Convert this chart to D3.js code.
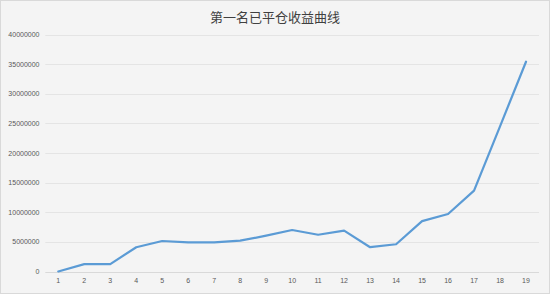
<!DOCTYPE html>
<html>
<head>
<meta charset="utf-8">
<script src="https://cdn.jsdelivr.net/npm/d3@7"></script>
<style>
  html, body { margin: 0; padding: 0; background: #fff; }
  svg { display: block; }
</style>
</head>
<body>
<svg id="chart" width="550" height="294"></svg>
<script>
const title = "第一名已平仓收益曲线";
const categories = ["1","2","3","4","5","6","7","8","9","10","11","12","13","14","15","16","17","18","19"];
const profit = [0, 1250000, 1250000, 4100000, 5150000, 4900000, 4900000, 5200000, 6050000, 7000000,
  6200000, 6900000, 4100000, 4600000, 8500000, 9700000, 13650000, 24500000, 35400000];
const yTicks = [0, 5000000, 10000000, 15000000, 20000000, 25000000, 30000000, 35000000, 40000000];

const width = 550, height = 294;
const margin = { top: 34.5, right: 11, bottom: 22.5, left: 45.3 };

const svg = d3.select("#chart");

svg.append("rect")
  .attr("x", 0.5).attr("y", 0.5)
  .attr("width", width - 1).attr("height", height - 1)
  .attr("fill", "#f4f4f4")
  .attr("stroke", "#d9d9d9");

svg.append("text")
  .attr("x", width / 2)
  .attr("y", 21.5)
  .attr("text-anchor", "middle")
  .attr("font-family", "'Noto Sans CJK SC', sans-serif")
  .attr("font-size", 13)
  .attr("fill", "#404040")
  .text(title);

const x = d3.scalePoint()
  .domain(categories)
  .range([margin.left, width - margin.right])
  .padding(0.5);

const y = d3.scaleLinear()
  .domain([0, 40000000])
  .range([height - margin.bottom, margin.top]);

// gridlines
svg.append("g")
  .selectAll("line")
  .data(yTicks)
  .join("line")
  .attr("x1", margin.left)
  .attr("x2", width - margin.right)
  .attr("y1", (d) => Math.round(y(d)) + 0.5)
  .attr("y2", (d) => Math.round(y(d)) + 0.5)
  .attr("stroke", (d) => (d === 0 ? "#d9d9d9" : "#e4e4e4"))
  .attr("stroke-width", 1);

// y labels
svg.append("g")
  .selectAll("text")
  .data(yTicks)
  .join("text")
  .attr("x", 39.5)
  .attr("y", (d) => y(d) + 2.5)
  .attr("text-anchor", "end")
  .attr("font-family", "'Liberation Sans', sans-serif")
  .attr("font-size", 7)
  .attr("fill", "#595959")
  .text((d) => d);

// x labels
svg.append("g")
  .selectAll("text")
  .data(categories)
  .join("text")
  .attr("x", (d) => x(d))
  .attr("y", 283)
  .attr("text-anchor", "middle")
  .attr("font-family", "'Liberation Sans', sans-serif")
  .attr("font-size", 7)
  .attr("fill", "#595959")
  .text((d) => d);

const line = d3.line()
  .x((d, i) => x(categories[i]))
  .y((d) => y(d));

svg.append("path")
  .datum(profit)
  .attr("d", line)
  .attr("fill", "none")
  .attr("stroke", "#5b9bd5")
  .attr("stroke-width", 2.2)
  .attr("stroke-linejoin", "round")
  .attr("stroke-linecap", "round");
</script>
</body>
</html>
